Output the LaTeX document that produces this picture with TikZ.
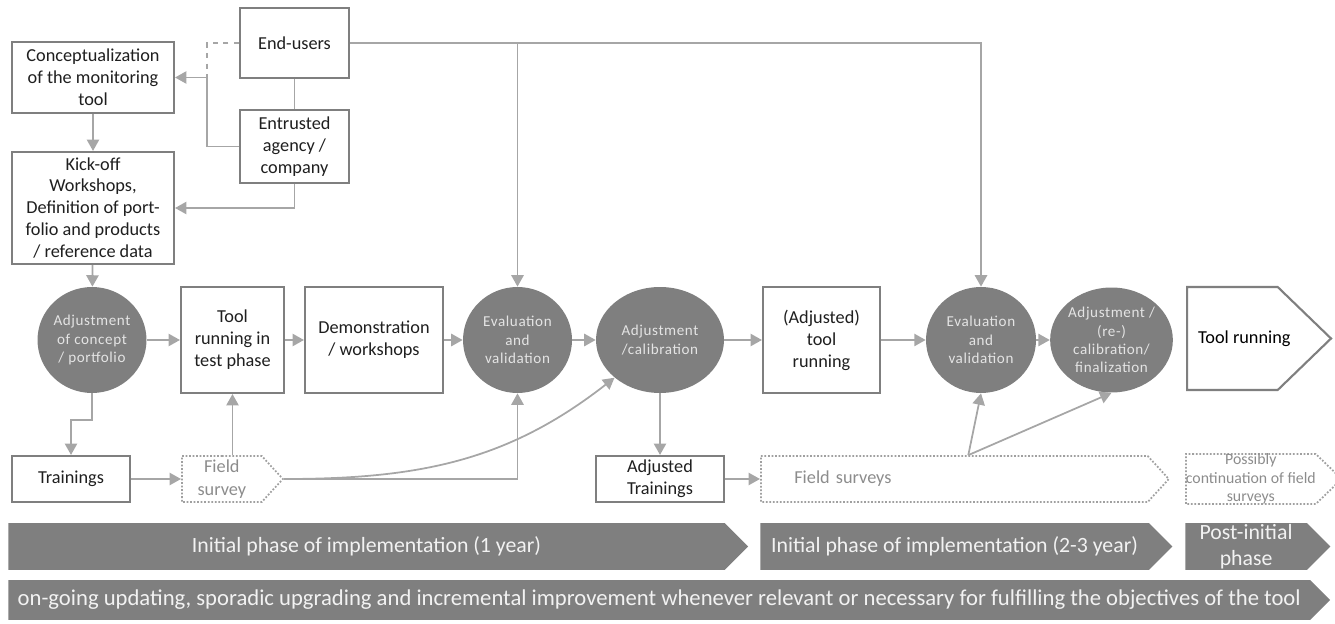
\documentclass[tikz,border=0pt]{standalone}
\usepackage{fontspec}
\setmainfont{Carlito}
\newfontfamily\circfont[LetterSpace=4]{Carlito}
\usepackage{xcolor}
\usepackage{tikz}
\usetikzlibrary{positioning,shapes.geometric,shapes.symbols,arrows.meta,calc}

\definecolor{boxline}{HTML}{7F7F7F}
\definecolor{conn}{HTML}{A6A6A6}
\definecolor{fillgray}{HTML}{7F7F7F}
\definecolor{lighttext}{HTML}{F2F2F2}
\definecolor{circtext}{HTML}{E4E4E4}
\definecolor{dotline}{HTML}{A0A0A0}
\definecolor{surveytext}{HTML}{8C8C8C}

\begin{document}
\begin{tikzpicture}[
    x=0.02cm, y=-0.02cm,
    >={Triangle[width=7pt,length=6.5pt]},
    font=\fontsize{10.4}{12.5}\selectfont,
    box/.style={
        draw=boxline,
        line width=1.2pt,
        fill=white,
        align=center,
        inner sep=1pt,
        text=black!88
    },
    circ/.style={
        ellipse,
        fill=fillgray,
        align=center,
        inner sep=0pt,
        text=circtext,
        font=\circfont\fontsize{8.6}{10.4}\selectfont
    },
    survey/.style={
        signal,
        signal to=east,
        signal pointer angle=95,
        anchor=west,
        draw=dotline,
        densely dotted,
        line width=1pt,
        align=center,
        inner sep=0pt,
        minimum height=0.92cm,
        text=surveytext
    },
    phase/.style={
        signal,
        signal to=east,
        signal pointer angle=90,
        anchor=west,
        fill=fillgray,
        inner sep=0pt,
        minimum height=0.94cm,
        align=center,
        text=lighttext,
        font=\fontsize{12.4}{14.5}\selectfont
    },
    link/.style={conn, line width=1pt},
    arr/.style={->, conn, line width=1pt}
]
\useasboundingbox (0,0) rectangle (1335,624);

% actors and preparation
\node[box, minimum width=2.18cm, minimum height=1.40cm] (users) at (294.5,43) {End-users};
\node[box, minimum width=2.18cm, minimum height=1.46cm] (agency) at (294.5,146.5)
{Entrusted\\agency /\\company};
\node[box, minimum width=3.24cm, minimum height=1.42cm] (concept) at (93,77.5)
{Conceptualization\\of the monitoring\\tool};
\node[box, minimum width=3.24cm, minimum height=2.24cm] (kickoff) at (93,208)
{Kick-off\\Workshops,\\Definition of port-\\folio and products\\/ reference data};

\coordinate (join) at (207,77.5);
\draw[link, dashed] (users.west) -| (join);
\draw[arr] (agency.west) -| (join) -- (concept.east);
\draw[link] (users) -- (agency);
\draw[arr] (agency.south) |- (kickoff.east);
\draw[arr] (concept) -- (kickoff);

% main row
\node[circ, minimum width=2.18cm, minimum height=2.12cm] (adjconcept) at (92,340)
{Adjustment\\of concept\\/ portfolio};
\node[box, minimum width=2.06cm, minimum height=2.12cm] (testrun) at (232.5,340)
{Tool\\running in\\test phase};
\node[box, minimum width=2.76cm, minimum height=2.12cm] (demo) at (374,340)
{Demonstration\\/ workshops};
\node[circ, minimum width=2.18cm, minimum height=2.12cm] (evalA) at (517.5,340)
{Evaluation\\and\\validation};
\node[circ, minimum width=2.56cm, minimum height=2.12cm] (calib) at (660,340)
{Adjustment\\/calibration};
\node[box, minimum width=2.34cm, minimum height=2.12cm] (adjrun) at (821.5,340)
{(Adjusted)\\tool\\running};
\node[circ, minimum width=2.20cm, minimum height=2.12cm] (evalB) at (981,340)
{Evaluation\\and\\validation};
\node[circ, minimum width=2.34cm, minimum height=2.10cm] (final) at (1111.5,340)
{Adjustment /\\(re-)\\calibration/\\finalization};
\node[box, signal, signal to=east, signal pointer angle=88, anchor=west, minimum width=2.88cm,
      minimum height=2.06cm, label={[xshift=0.24cm]center:Tool running}] (toolrun) at (1186,338.5) {};

\draw[arr] (kickoff) -- (adjconcept);
\draw[arr] (adjconcept) -- (testrun);
\draw[arr] (testrun) -- (demo);
\draw[arr] (demo) -- (evalA);
\draw[arr] (evalA) -- (calib);
\draw[arr] (calib) -- (adjrun);
\draw[arr] (adjrun) -- (evalB);
\draw[arr] (evalB) -- (final);

\draw[arr] (users.east) -| (evalB.north);
\draw[arr] (users.east -| evalA.north) -- (evalA.north);

% trainings and field surveys
\node[box, minimum width=2.36cm, minimum height=0.92cm] (train) at (71,479) {Trainings};
\node[survey, minimum width=2.02cm, font=\fontsize{10.4}{13}\selectfont] (fieldA) at (181,479)
{Field\\survey};
\node[box, minimum width=2.56cm, minimum height=0.92cm] (adjtrain) at (660,479)
{Adjusted\\Trainings};
\node[survey, minimum width=8.16cm, text width=6.4cm, align=left] (fieldB) at (760,479)
{Field surveys};
\node[survey, minimum width=2.90cm, signal pointer angle=88, font=\fontsize{9}{10.4}\selectfont] (fieldC) at (1185,479)
{Possibly\\continuation of field\\surveys};

\coordinate (fork) at ([xshift=0.28cm]fieldB.north);

\draw[arr] (adjconcept.south) -- ++(0,27) -| (train.north);
\draw[arr] (train) -- (fieldA);
\draw[arr] (fieldA.north -| testrun.south) -- (testrun.south);
\draw[arr] (fieldA.east) -| (evalA.south);
\draw[arr] (fieldA.east) to[out=0, in=218] (calib.south west);
\draw[arr] (calib) -- (adjtrain);
\draw[arr] (adjtrain) -- (fieldB);
\draw[arr] (fork) -- (evalB.south);
\draw[arr] (fork) -- (final.south);

% phases
\node[phase, minimum width=14.8cm] (phaseA) at (8,546.5)
{Initial phase of implementation (1 year)};
\node[phase, minimum width=8.24cm] (phaseB) at (760,546.5)
{Initial phase of implementation (2-3 year)};
\node[phase, minimum width=2.90cm] (phaseC) at (1185,546.5)
{Post-initial\\phase};
\node[phase, minimum width=26.44cm, minimum height=0.80cm, font=\fontsize{12.9}{15}\selectfont] (ongoing) at (8,600)
{on-going updating, sporadic upgrading and incremental improvement whenever relevant or necessary for fulfilling the objectives of the tool};

\end{tikzpicture}
\end{document}
